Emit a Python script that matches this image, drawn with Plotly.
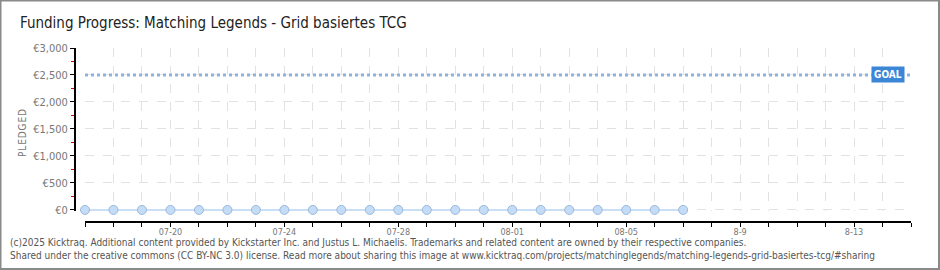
import plotly.graph_objects as go
import pandas as pd

# ---- data ----
dates = pd.date_range("2025-07-17", "2025-08-07", freq="D").strftime("%Y-%m-%d").tolist()
pledged = [0] * len(dates)
goal = 2500
axis_days = pd.date_range("2025-07-17", "2025-08-15", freq="D").strftime("%Y-%m-%d").tolist()
label_map = {"2025-07-20": "07-20", "2025-07-24": "07-24", "2025-07-28": "07-28",
             "2025-08-01": "08-01", "2025-08-05": "08-05", "2025-08-09": "8-9",
             "2025-08-13": "8-13"}
tick_text = [label_map.get(d, "") for d in axis_days]
y_ticks = [0, 500, 1000, 1500, 2000, 2500, 3000]
y_labels = ["€0", "€500", "€1,000", "€1,500", "€2,000", "€2,500", "€3,000"]

W, H = 940, 270
L, R, T, B = 75, 29, 48, 48
PW, PH = W - L - R, H - T - B


def px(x):
    return (x - L) / PW


def py(y):
    return (H - B - y) / PH


FONT = "DejaVu Sans Condensed, Liberation Sans Narrow, sans-serif"

fig = go.Figure()
fig.add_trace(go.Scatter(
    x=[axis_days[0], axis_days[-1]], y=[goal, goal], mode="lines",
    line=dict(color="#8cb3e0", width=3, dash="dot"), hoverinfo="skip", showlegend=False))
fig.add_trace(go.Scatter(
    x=dates, y=pledged, mode="lines+markers",
    line=dict(color="#c9dff5", width=2),
    marker=dict(size=9, color="#c4dcf6", line=dict(color="#9ab8dc", width=1)),
    cliponaxis=False, showlegend=False))

fig.update_layout(
    width=W, height=H, margin=dict(l=L, r=R, t=T, b=B),
    paper_bgcolor="white", plot_bgcolor="white",
    title=dict(text="Funding Progress: Matching Legends - Grid basiertes TCG",
               x=20 / W, xanchor="left", xref="container",
               y=1 - 23 / H, yanchor="middle", yref="container",
               font=dict(family=FONT, size=15, color="#222")),
    xaxis=dict(domain=[px(85), 1], anchor="free", position=0,
               range=[axis_days[0], axis_days[-1]], type="date",
               tickmode="array", tickvals=axis_days, ticktext=tick_text,
               ticks="outside", ticklen=4, tickcolor="black", tickwidth=1,
               ticklabelstandoff=-3,
               showline=True, linecolor="black", linewidth=2,
               showgrid=True, gridcolor="#e2e2e2", griddash="dash", gridwidth=1,
               zeroline=False,
               tickfont=dict(family=FONT, size=9, color="#777")),
    yaxis=dict(domain=[py(211), 1], anchor="free", position=0,
               range=[-20, 3000],
               tickmode="array", tickvals=y_ticks, ticktext=y_labels,
               ticks="outside", ticklen=4, tickcolor="black", tickwidth=1,
               minor=dict(dtick=250, tick0=0, ticks="outside", ticklen=3,
                          tickcolor="#e00000", showgrid=False),
               showline=True, linecolor="black", linewidth=2,
               showgrid=True, gridcolor="#e2e2e2", griddash="dash", gridwidth=1,
               zeroline=False,
               tickfont=dict(family=FONT, size=11, color="#777")),
)

fig.add_annotation(text="P\u200aL\u200aE\u200aD\u200aG\u200aE\u200aD", xref="paper", yref="paper",
                   x=px(22), y=py(133), xanchor="center", yanchor="middle",
                   textangle=-90, showarrow=False,
                   font=dict(family=FONT, size=10, color="#777"))
fig.add_annotation(text="<b>GOAL</b>", xref="x", yref="y",
                   x="2025-08-14 05:00", y=goal, showarrow=False,
                   bgcolor="#3b86d6", borderpad=2,
                   font=dict(family=FONT, size=10, color="white"))
footer = [
    "(c)2025 Kicktraq. Additional content provided by Kickstarter Inc. and Justus L. Michaelis. Trademarks and related content are owned by their respective companies.",
    "Shared under the creative commons (CC BY-NC 3.0) license. Read more about sharing this image at www.kicktraq.com/projects/matchinglegends/matching-legends-grid-basiertes-tcg/#sharing",
]
for i, line in enumerate(footer):
    fig.add_annotation(text=line, xref="paper", yref="paper",
                       x=px(8), y=py(242 + 13 * i), xanchor="left", yanchor="middle",
                       showarrow=False, font=dict(family=FONT, size=10, color="#555"))

fig.add_shape(type="rect", xref="paper", yref="paper",
              x0=px(0.5), x1=px(939), y0=py(269), y1=py(0.5),
              line=dict(color="#8a8a8a", width=2))

fig.write_html("out.html")
